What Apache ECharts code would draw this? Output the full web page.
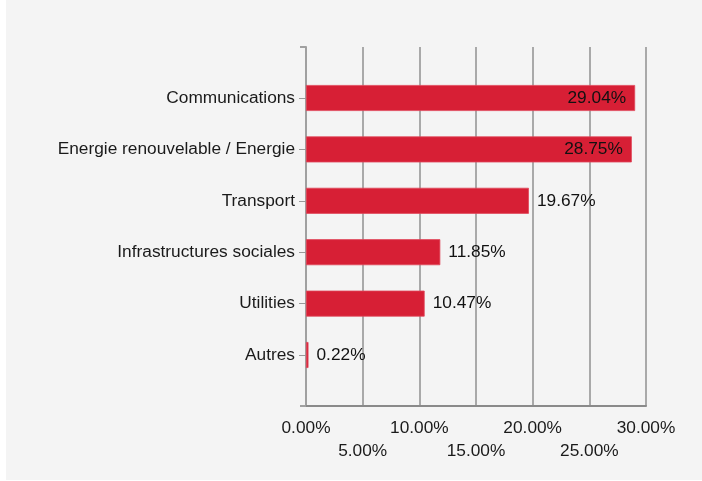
<!DOCTYPE html>
<html>
<head>
<meta charset="utf-8">
<script src="https://cdn.jsdelivr.net/npm/echarts@6/dist/echarts.min.js"></script>
<style>
html,body{margin:0;padding:0;background:#ffffff;}
#panel{position:absolute;left:6px;top:0;width:696px;height:480px;background:#f4f4f4;}
#chart{position:absolute;left:0;top:0;width:702px;height:481px;}
</style>
</head>
<body>
<div id="panel"></div>
<div id="chart"></div>
<script>
const categories = ['Communications', 'Energie renouvelable / Energie', 'Transport', 'Infrastructures sociales', 'Utilities', 'Autres'];
const values = [29.04, 28.75, 19.67, 11.85, 10.47, 0.22];
const axisMin = 0, axisMax = 30, axisStep = 5;

const chart = echarts.init(document.getElementById('chart'), null, {renderer: 'canvas'});
const font = 'Liberation Sans, Arial, sans-serif';
const fs = 17.3;
const data = values.map(v => ({
  value: v,
  label: { position: v > 25 ? 'insideRight' : 'right', distance: v > 25 ? 9 : 8 }
}));
const isOdd = (v) => Math.round(v / axisStep) % 2 === 1;
const fmt = (v) => v.toFixed(2) + '%';

chart.setOption({
  backgroundColor: 'transparent',
  animation: false,
  grid: [
    { left: 306, right: 56, top: 47, bottom: 75 },
    { left: 306, right: 56, top: 72.3, bottom: 100.3 }
  ],
  xAxis: [
    {
      gridIndex: 0, type: 'value', min: axisMin, max: axisMax, interval: axisStep,
      axisLine: { show: true, lineStyle: { color: '#8a8a8a', width: 2 } },
      axisTick: { show: false },
      splitLine: { show: true, lineStyle: { color: '#a9a9a9', width: 2 } },
      axisLabel: {
        margin: 14, fontSize: fs, color: '#1a1a1a', fontFamily: font,
        showMinLabel: true, showMaxLabel: true, hideOverlap: false,
        formatter: (v) => isOdd(v) ? '' : fmt(v)
      }
    },
    { gridIndex: 1, type: 'value', min: axisMin, max: axisMax, show: false, splitLine: { show: false } },
    {
      gridIndex: 0, type: 'value', position: 'bottom', min: axisMin, max: axisMax, interval: axisStep,
      axisLine: { show: false }, axisTick: { show: false }, splitLine: { show: false },
      axisLabel: {
        margin: 37, fontSize: fs, color: '#1a1a1a', fontFamily: font,
        showMinLabel: true, showMaxLabel: true, hideOverlap: false,
        formatter: (v) => isOdd(v) ? fmt(v) : ''
      }
    }
  ],
  yAxis: [
    {
      gridIndex: 0, type: 'category', data: [''],
      axisLine: { show: true, lineStyle: { color: '#a0a0a0', width: 2 } },
      axisTick: { show: true, length: 6, lineStyle: { color: '#a0a0a0', width: 2 } },
      axisLabel: { show: false }, splitLine: { show: false }
    },
    {
      gridIndex: 1, type: 'category', data: categories, inverse: true,
      axisLine: { show: false },
      axisTick: { show: true, alignWithLabel: true, length: 7, lineStyle: { color: '#999', width: 1 } },
      axisLabel: { margin: 11, fontSize: fs, color: '#1a1a1a', fontFamily: font },
      splitLine: { show: false }
    }
  ],
  series: [{
    type: 'bar', xAxisIndex: 1, yAxisIndex: 1,
    data: data,
    barWidth: 26,
    itemStyle: { color: '#d71f35', borderColor: '#e0485a', borderWidth: 0.8 },
    label: {
      show: true, fontSize: fs, color: '#111', fontFamily: font,
      formatter: (p) => fmt(p.value)
    }
  }]
});
</script>
</body>
</html>
